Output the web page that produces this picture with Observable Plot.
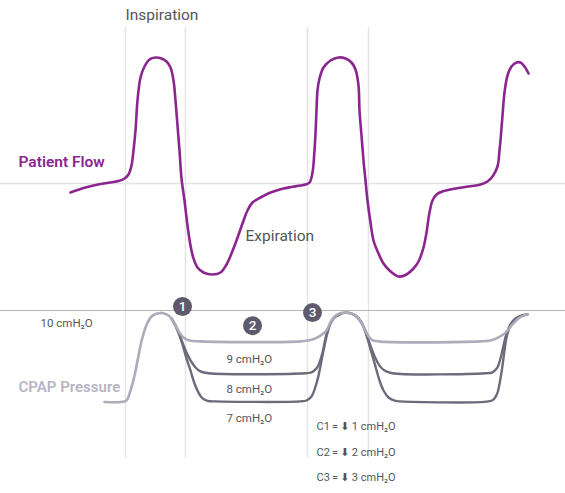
<!DOCTYPE html>
<html>
<head>
<meta charset="utf-8">
<script src="https://cdn.jsdelivr.net/npm/d3@7"></script>
<script src="https://cdn.jsdelivr.net/npm/@observablehq/plot@0.6"></script>
<style>
  html, body { margin: 0; padding: 0; background: #fff; }
  #chart { position: relative; width: 565px; height: 493px; font-family: Roboto, "DejaVu Sans", sans-serif; }
  #chart svg { position: absolute; left: 0; overflow: visible; }
</style>
</head>
<body>
<div id="chart"></div>
<script>
// ---- Data (time in s, flow in L/min, pressure in cmH2O) ----
const flowT = [0.31,0.46,0.61,0.79,0.85,0.89,0.92,0.94,0.96,0.98,1.01,1.05,1.10,1.16,1.22,1.27,1.31,1.34,1.36,1.38,1.40,1.42,1.45,1.48,1.51,1.54,1.58,1.64,1.73,1.81,1.87,1.92,1.97,2.03,2.08,2.13,2.21,2.31,2.44,2.61,2.66,2.70,2.73,2.75,2.76,2.77,2.78,2.80,2.84,2.91,2.99,3.06,3.12,3.16,3.19,3.20,3.22,3.24,3.26,3.28,3.31,3.34,3.39,3.44,3.50,3.59,3.67,3.74,3.79,3.84,3.87,3.90,3.93,3.97,4.03,4.16,4.29,4.41,4.48,4.53,4.58,4.60,4.61,4.63,4.65,4.68,4.72,4.77,4.81,4.85,4.89];
const flowV = [-4.5,-2,-0.25,1.25,2.5,4.5,9,16.5,26.5,41.5,53,58.5,62,63,62.5,61,58,51.5,41.5,29,16.5,2.5,-8.5,-21,-31,-37.5,-42,-44.5,-45.5,-44.5,-40.5,-35,-28.5,-20,-13.5,-9.5,-7,-4.5,-2.5,-1,-0.5,0.5,5.5,16.5,25,36.5,46.5,52.5,58,61.5,63,62.5,60.5,57,49,36.5,24,11.5,1.5,-8.5,-19.5,-28.5,-35,-40,-43.5,-46.5,-45.5,-42.5,-39,-32,-24.5,-14.5,-8.5,-5.5,-4,-2.5,-1.5,-0.5,1,3.5,8.5,16.5,21.5,34,45.5,54,58.5,60.5,60.5,58.5,55];

// C1 (light): pressure drop of 1 cmH2O
const lightT = [0.65,0.81,0.87,0.91,0.95,0.99,1.03,1.08,1.13,1.21,1.27,1.32,1.36,1.40,1.44,1.50,1.61,2.61,2.73,2.81,2.87,2.92,2.98,3.07,3.14,3.19,3.24,3.28,3.32,3.39,4.41,4.51,4.59,4.66,4.73,4.79,4.84,4.88];
const lightP = [6.98,6.98,7.03,7.36,7.85,8.51,9.11,9.60,9.83,9.92,9.87,9.74,9.50,9.27,9.11,9.01,8.98,8.98,9.04,9.17,9.34,9.67,9.87,9.93,9.87,9.74,9.47,9.21,9.04,8.98,8.98,9.01,9.11,9.27,9.54,9.74,9.83,9.87];
// C2 (medium): pressure drop of 2 cmH2O
const mediumT = [1.32,1.36,1.39,1.43,1.47,1.51,1.56,1.61,1.69,2.66,2.72,2.77,2.80,2.83,2.86,2.89,2.94,3.01,3.07,3.14,3.19,3.24,3.28,3.32,3.36,3.40,3.45,3.53,4.46,4.53,4.58,4.61,4.64,4.67,4.71,4.76,4.82,4.88];
const mediumP = [9.74,9.50,9.27,8.94,8.61,8.35,8.12,7.99,7.93,7.93,7.96,8.09,8.28,8.61,9.08,9.44,9.74,9.88,9.93,9.87,9.74,9.47,9.11,8.75,8.42,8.18,8.02,7.93,7.93,7.96,8.12,8.42,8.84,9.24,9.54,9.74,9.83,9.87];
// C3 (dark): pressure drop of 3 cmH2O
const darkT = [1.32,1.36,1.39,1.43,1.47,1.51,1.55,1.59,1.63,1.68,1.76,2.61,2.67,2.72,2.76,2.79,2.82,2.85,2.88,2.92,2.98,3.07,3.14,3.19,3.24,3.28,3.32,3.36,3.40,3.44,3.49,3.56,3.61,4.49,4.54,4.58,4.61,4.63,4.65,4.67,4.70,4.74,4.80,4.88];
const darkP = [9.74,9.50,9.27,8.88,8.42,8.02,7.59,7.29,7.10,7.02,7.0,7.0,7.03,7.16,7.49,7.85,8.35,8.84,9.27,9.64,9.87,9.93,9.87,9.74,9.47,9.08,8.61,8.15,7.69,7.36,7.13,7.02,7.0,7.0,7.06,7.29,7.76,8.18,8.68,9.11,9.44,9.67,9.80,9.87];

const phaseTimes = [0.86, 1.46, 2.68, 3.29];
const levelLabels = ["9 cmH₂O", "8 cmH₂O", "7 cmH₂O"];
const levelLabelP = [8.38, 7.39, 6.44];
const changeLabels = ["C1\u2009=\u2009⬇\u20091 cmH₂O", "C2\u2009=\u2009⬇\u20092 cmH₂O", "C3\u2009=\u2009⬇\u20093 cmH₂O"];
const changeLabelP = [6.17, 5.31, 4.49];
const markerNums = ["1", "2", "3"];
const markerT = [1.43, 2.13, 2.73];
const markerP = [10.13, 9.50, 9.93];

// ---- Build tables ----
const zipXY = (xs, ys) => xs.map((x, i) => ({t: x, v: ys[i]}));
const flow = zipXY(flowT, flowV);
const light = zipXY(lightT, lightP);
const medium = zipXY(mediumT, mediumP);
const dark = zipXY(darkT, darkP);
const markers = markerNums.map((n, i) => ({n, t: markerT[i], v: markerP[i]}));
const levels = levelLabels.map((l, i) => ({l, v: levelLabelP[i]}));
const changes = changeLabels.map((l, i) => ({l, v: changeLabelP[i]}));

const xDomain = [-0.39, 5.26];
const font = "Roboto, 'DejaVu Sans', sans-serif";
const purple = "#8b2590";
const lightC = "#aeabbb";
const darkC = "#6d6a7b";

// ---- Flow panel ----
const flowPlot = Plot.plot({
  width: 565, height: 300,
  margin: 0,
  style: {fontFamily: font, background: "transparent"},
  x: {domain: xDomain, range: [0, 565], axis: null},
  y: {domain: [-58.5, 91.5], range: [300, 0], axis: null},
  marks: [
    Plot.ruleX(phaseTimes, {y1: 78, y2: -58.5, stroke: "#e4e4e4", strokeWidth: 1.5}),
    Plot.ruleY([0], {x1: -0.39, x2: 5.26, stroke: "#e4e4e4", strokeWidth: 1.5}),
    Plot.line(flow, {x: "t", y: "v", stroke: purple, strokeWidth: 2.6, curve: "catmull-rom"}),
    Plot.text(["Inspiration"], {x: 0.86, y: 84, text: d => d, textAnchor: "start", fontSize: 15.5, fill: "#555"}),
    Plot.text(["Expiration"], {x: 2.06, y: -26.5, text: d => d, textAnchor: "start", fontSize: 15.5, fill: "#555"}),
    Plot.text(["Patient Flow"], {x: -0.21, y: 10.5, text: d => d, textAnchor: "start", fontSize: 15.5, fontWeight: 600, fill: purple})
  ]
});

// ---- Pressure panel ----
const pTop = 10 + 10 / 30.3, pBot = 10 - 183 / 30.3;
const pressPlot = Plot.plot({
  width: 565, height: 193,
  margin: 0,
  style: {fontFamily: font, background: "transparent"},
  x: {domain: xDomain, range: [0, 565], axis: null},
  y: {domain: [pBot, pTop], range: [193, 0], axis: null},
  marks: [
    Plot.ruleX(phaseTimes, {y1: pTop, y2: 5.12, stroke: "#e4e4e4", strokeWidth: 1.5}),
    Plot.ruleY([10], {x1: -0.39, x2: 5.26, stroke: "#b4b4b4", strokeWidth: 1}),
    Plot.line(dark, {x: "t", y: "v", stroke: darkC, strokeWidth: 2.4, curve: "catmull-rom"}),
    Plot.line(medium, {x: "t", y: "v", stroke: darkC, strokeWidth: 2.4, curve: "catmull-rom"}),
    Plot.line(light, {x: "t", y: "v", stroke: lightC, strokeWidth: 2.6, curve: "catmull-rom"}),
    Plot.dot(markers, {x: "t", y: "v", r: 9.5, fill: "#5e5a6b"}),
    Plot.text(markers, {x: "t", y: "v", text: "n", fill: "#fff", fontSize: 13.5, fontWeight: 500}),
    Plot.text(["10 cmH₂O"], {x: 0.01, y: 9.57, text: d => d, textAnchor: "start", fontSize: 11.5, fill: "#555"}),
    Plot.text(levels, {x: 1.87, y: "v", text: "l", textAnchor: "start", fontSize: 11.5, fill: "#555"}),
    Plot.text(changes, {x: 2.77, y: "v", text: "l", textAnchor: "start", fontSize: 11, fill: "#555"}),
    Plot.text(["CPAP Pressure"], {x: -0.21, y: 7.46, text: d => d, textAnchor: "start", fontSize: 15, fontWeight: 600, fill: "#b7b4c3"})
  ]
});

flowPlot.style.top = "0px";
pressPlot.style.top = "300px";
const chart = document.getElementById("chart");
chart.appendChild(flowPlot);
chart.appendChild(pressPlot);
</script>
</body>
</html>
